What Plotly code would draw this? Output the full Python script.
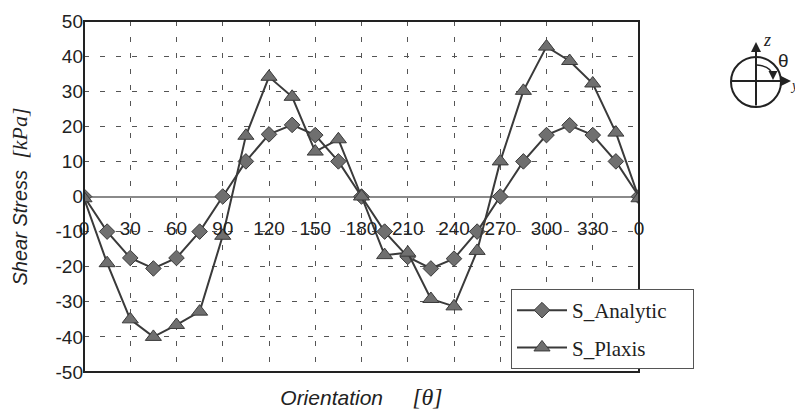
import plotly.graph_objects as go

# ---- data ----
orientation = [0, 15, 30, 45, 60, 75, 90, 105, 120, 135, 150, 165, 180,
               195, 210, 225, 240, 255, 270, 285, 300, 315, 330, 345, 360]
s_analytic = [0, -10, -17.5, -20.5, -17.5, -10, 0, 10, 17.7, 20.4, 17.5, 10, 0,
              -10, -17.2, -20.5, -17.7, -10, 0, 10, 17.5, 20.3, 17.5, 10, 0]
s_plaxis = [-0.5, -19, -35, -40, -36.6, -32.8, -11.2, 17.3, 34.1, 28.4, 12.8, 16.3, 0,
            -16.7, -16, -29.2, -31.3, -15.5, 10, 30.1, 42.7, 38.6, 32.2, 18.2, -0.5]
x_tick_vals = [0, 30, 60, 90, 120, 150, 180, 210, 240, 270, 300, 330, 360]
x_tick_text = ["0", "30", "60", "90", "120", "150", "180", "210", "240", "270", "300", "330", "0"]
y_tick_vals = [-50, -40, -30, -20, -10, 0, 10, 20, 30, 40, 50]
y_tick_text = ["-50", "-40", "-30", "-20", "-10", "0", "10", "20", "30", "40", "50"]

W, H = 795, 410
L, R, T, B = 84, 639, 21, 372


def px(x):
    return (x - L) / (R - L)


def py(y):
    return (B - y) / (B - T)


line_col = "#3a3a3a"
mk_fill = "#6f6f6f"
mk_line = "#3a3a3a"
grid_col = "#555555"
pad = "\u00a0" * 4  # widen legend box like the reference

fig = go.Figure()
fig.add_trace(go.Scatter(
    x=orientation, y=s_analytic, name="S_Analytic" + pad, mode="lines+markers",
    line=dict(color=line_col, width=2),
    marker=dict(symbol="diamond", size=12, color=mk_fill, line=dict(color=mk_line, width=1)),
    legendgroup="a"))
fig.add_trace(go.Scatter(
    x=orientation, y=s_plaxis, name="S_Plaxis", mode="lines+markers",
    line=dict(color=line_col, width=2),
    marker=dict(symbol="triangle-up", size=14, color=mk_fill, line=dict(color=mk_line, width=1)),
    legendgroup="b"))
# carrier trace for the tick-label axis crossing at zero
fig.add_trace(go.Scatter(x=x_tick_vals, y=[None] * len(x_tick_vals), xaxis="x2",
                         showlegend=False, hoverinfo="skip", mode="lines"))

sans = "Liberation Sans, Arial, sans-serif"
serif = "Liberation Serif, Times New Roman, serif"

fig.update_layout(
    width=W, height=H,
    margin=dict(l=L, r=W - R, t=T, b=H - B, autoexpand=False),
    paper_bgcolor="white", plot_bgcolor="white",
    showlegend=True,
    legend=dict(x=px(511), y=py(289), xanchor="left", yanchor="top",
                bgcolor="white", bordercolor="#555555", borderwidth=1,
                font=dict(family=serif, size=21, color="#222"),
                traceorder="grouped", tracegroupgap=7, itemwidth=50),
    xaxis=dict(range=[0, 360], tickvals=x_tick_vals, showticklabels=False,
               showgrid=True, gridcolor=grid_col, gridwidth=1, griddash="5px,11px",
               zeroline=False, showline=False, automargin=False,
               title=dict(text="<i>Orientation</i>\u00a0\u00a0\u00a0\u00a0\u00a0<span style='font-family:Liberation Serif;font-size:24px'><i>[θ]</i></span>",
                          font=dict(family=sans, size=21, color="#222"), standoff=19)),
    xaxis2=dict(range=[0, 360], overlaying="x", anchor="free", position=0.5, side="bottom",
                tickvals=x_tick_vals, ticktext=x_tick_text, showgrid=False, zeroline=False,
                showline=False, ticks="", ticklabelstandoff=18, automargin=False,
                tickfont=dict(family=sans, size=19, color="#222")),
    yaxis=dict(range=[-50, 50], tickvals=y_tick_vals, ticktext=y_tick_text,
               showgrid=True, gridcolor=grid_col,
               gridwidth=1, griddash="5px,11px", zeroline=True, zerolinecolor="#8a8a8a",
               zerolinewidth=1.5, ticks="", automargin=False,
               tickfont=dict(family=sans, size=19, color="#222"),
               title=dict(text="<i>Shear Stress</i>\u00a0\u00a0<span style='font-family:Liberation Serif;font-size:22px'><i>[kPa]</i></span>",
                          font=dict(family=sans, size=20, color="#222"), standoff=22)),
)

shapes = [
    # plot frame
    dict(type="rect", xref="paper", yref="paper", x0=0, x1=1, y0=0, y1=1,
         line=dict(color="#222", width=2), layer="above"),
    # orientation icon: circle and axes
    dict(type="circle", xref="paper", yref="paper", x0=px(731), x1=px(781), y0=py(107), y1=py(57),
         line=dict(color="#222", width=2)),
    dict(type="path", xref="paper", yref="paper",
         path=f"M{px(757)},{py(65)} Q{px(772)},{py(66)} {px(773)},{py(77)}",
         line=dict(color="#222", width=1.5)),
]
fig.update_layout(shapes=shapes)

annotations = [
    dict(xref="paper", yref="paper", x=px(756), y=py(42), ax=0, ay=65, text="",
         showarrow=True, arrowhead=2, arrowsize=1, arrowwidth=2, arrowcolor="#222"),
    dict(xref="paper", yref="paper", x=px(791), y=py(81), ax=-61, ay=0, text="",
         showarrow=True, arrowhead=2, arrowsize=1, arrowwidth=2, arrowcolor="#222"),
    dict(xref="paper", yref="paper", x=px(773), y=py(80), ax=0, ay=-5, text="",
         showarrow=True, arrowhead=2, arrowsize=1.2, arrowwidth=1.5, arrowcolor="#222"),
    dict(xref="paper", yref="paper", x=px(761), y=py(40), text="<i>z</i>", showarrow=False,
         xanchor="left", yanchor="middle", font=dict(family=serif, size=18, color="#222")),
    dict(xref="paper", yref="paper", x=px(776), y=py(60), text="θ", showarrow=False,
         xanchor="left", yanchor="middle", font=dict(family=sans, size=19, color="#222")),
    dict(xref="paper", yref="paper", x=px(788), y=py(85), text="<i>y</i>", showarrow=False,
         xanchor="left", yanchor="middle", font=dict(family=serif, size=14, color="#222")),
]
fig.update_layout(annotations=annotations)

fig.write_html("out.html", config={"displayModeBar": False},
               post_script="document.body.style.margin='0';")
